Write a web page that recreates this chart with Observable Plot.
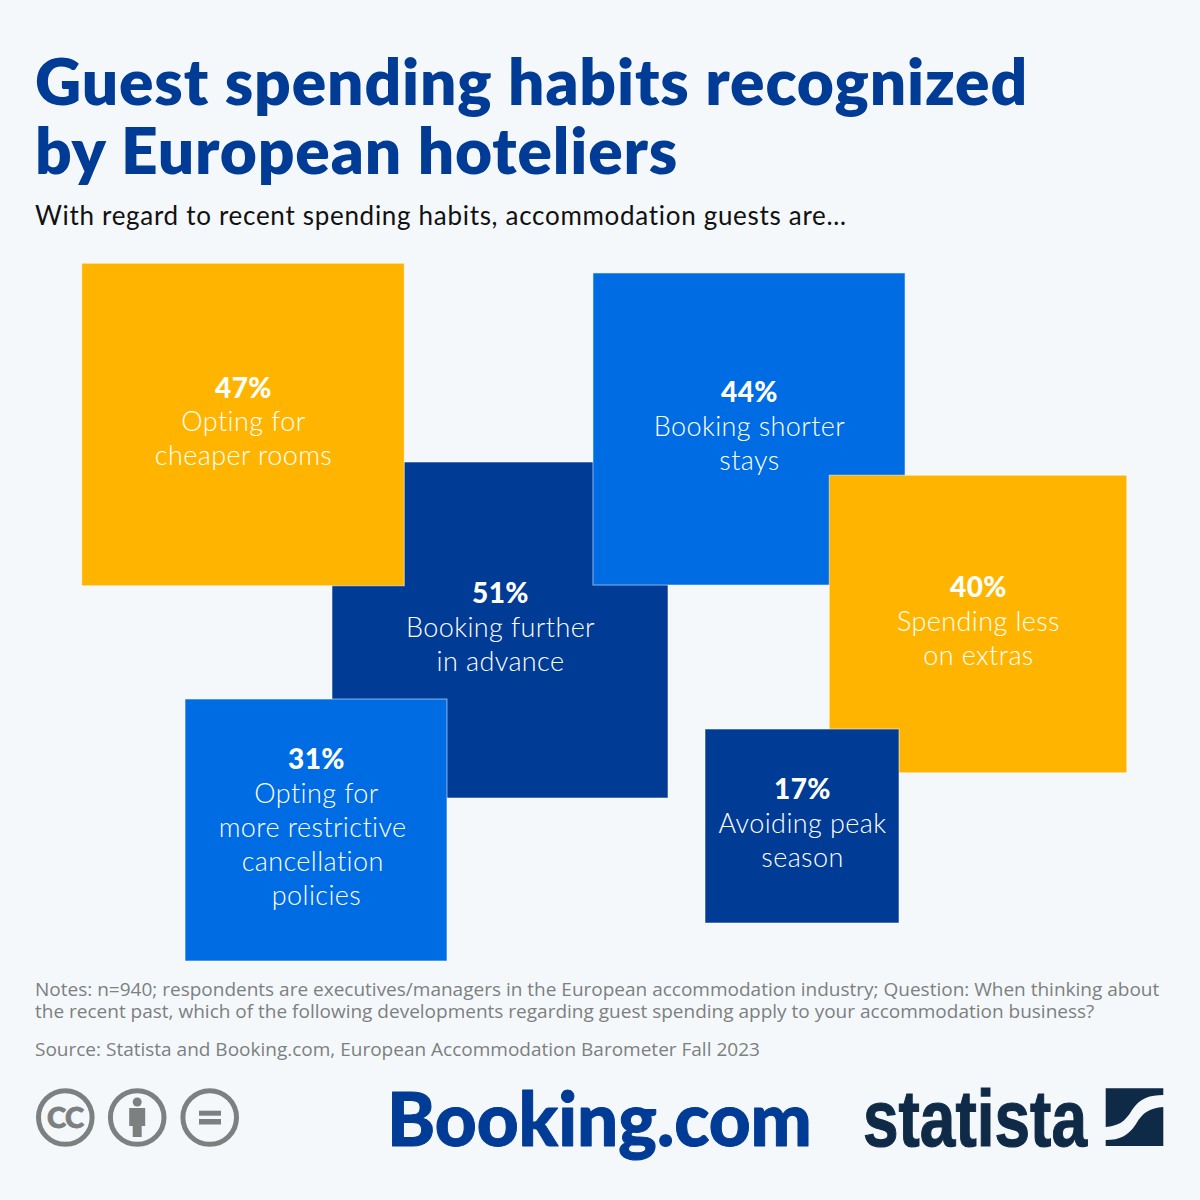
<!DOCTYPE html>
<html><head><meta charset="utf-8">
<script src="https://cdn.jsdelivr.net/npm/d3@7"></script>
<script src="https://cdn.jsdelivr.net/npm/@observablehq/plot@0.6"></script>
<style>
html,body{margin:0;padding:0;background:#f5f8fb}
#page{position:relative;width:1200px;height:1200px;background:#f5f8fb;overflow:hidden}
#page>div,#page>svg{position:absolute}
#title{left:35px;top:46px;font:800 64px/69px Lato,sans-serif;color:#003b95;white-space:nowrap;letter-spacing:.85px}
#subtitle{left:35px;top:198px;font:400 26px/34px Lato,sans-serif;color:#111;white-space:nowrap;letter-spacing:.7px}
#chart{left:0;top:250px}
#chart svg{display:block;background:transparent}
#notes{left:35px;top:978px;width:1140px;font:400 19px/22px "Open Sans",sans-serif;color:#7c8080;white-space:nowrap}
#source{left:35px;top:1038px;font:400 19px/22px "Open Sans",sans-serif;color:#7c8080;white-space:nowrap}
</style></head>
<body>
<div id="page">
  <div id="title">Guest spending habits recognized<br>by European hoteliers</div>
  <div id="subtitle">With regard to recent spending habits, accommodation guests are…</div>
  <div id="chart"></div>
  <div id="notes">Notes: n=940; respondents are executives/managers in the European accommodation industry; Question: When thinking about<br>the recent past, which of the following developments regarding guest spending apply to your accommodation business?</div>
  <div id="source">Source: Statista and Booking.com, European Accommodation Barometer Fall 2023</div>
  <svg id="logos" width="1200" height="135" viewBox="0 -15 1200 135" style="left:0;top:1060px" xmlns="http://www.w3.org/2000/svg">
    <g fill="none" stroke="#7c8080" stroke-width="5">
      <circle cx="65.300" cy="42.500" r="26.800"/><circle cx="137.200" cy="42.500" r="26.800"/><circle cx="209.700" cy="42.500" r="26.800"/>
    </g>
    <g fill="#7c8080">
      <text x="65.300" y="52.500" text-anchor="middle" font-family="Lato,sans-serif" font-weight="900" font-size="29" letter-spacing="-.5" stroke="#7c8080" stroke-width=".8">CC</text>
      <circle cx="137.200" cy="27" r="4.500"/>
      <path d="M129.200 33h16v18h-3.500v11h-9v-11h-3.500z"/>
      <rect x="199" y="35.700" width="22" height="5"/><rect x="199" y="44" width="22" height="5.500"/>
    </g>
    <text id="bk" x="0" y="0" font-family="Lato,sans-serif" font-weight="900" font-size="74" fill="#003b95" stroke="#003b95" stroke-width="1" stroke-linejoin="round">Booking.com</text>
    <text id="st" x="0" y="0" font-family="'Liberation Sans Narrow',sans-serif" font-weight="700" font-size="80" fill="#0f2a47" stroke="#0f2a47" stroke-width="1.200">statista</text>
    <path fill="#0f2a47" d="M1105.700 13.300H1163.300V20C1150 20 1140 23 1132 35C1125 47 1118 51 1105.700 52ZM1163.300 32C1150 33 1143 37 1136 49C1128 61 1120 65 1105.700 65V71H1163.300Z"/>
  </svg>
</div>
<script>
const labels = ["Booking further\nin advance","Opting for\ncheaper rooms","Booking shorter\nstays","Opting for\nmore restrictive\u00a0\ncancellation\u00a0\npolicies","Spending less\non extras","Avoiding peak\nseason"];
const values = [51,47,44,31,40,17];
const groups = ["dark","amber","blue","blue","amber","dark"];
const groupNames = ["dark","amber","blue"];
const groupColors = ["#003b95","#ffb500","#006ce4"];
const centerX = [500,243,749,316,978,802];
const centerY = [630,424.500,429,830,624,826];
const unitSide = 47.05;

const rows = values.map((v,i)=>{
  const half = unitSide*Math.sqrt(v)/2;
  const lines = labels[i].split("\n").length;
  return {v, label:labels[i], group:groups[i], lines,
    x1:centerX[i]-half, x2:centerX[i]+half, y1:centerY[i]-half, y2:centerY[i]+half,
    cx:centerX[i], cy:centerY[i]-3};
});
const font = "Lato,sans-serif";
const chart = Plot.plot({
  width:1200, height:725, margin:0,
  style:{background:"transparent", overflow:"visible", letterSpacing:"0.4px"},
  x:{domain:[0,1200], range:[0,1200], axis:null},
  y:{domain:[250,975], range:[0,725], axis:null},
  color:{domain:groupNames, range:groupColors},
  marks:[
    Plot.rect(rows,{x1:"x1",x2:"x2",y1:"y1",y2:"y2",fill:"group",stroke:"#fff",strokeOpacity:0.55,strokeWidth:1}),
    Plot.text(rows,{x:"cx",y:d=>d.cy-d.lines*17+1,text:d=>d.v+"%",fill:"#fff",fontFamily:font,fontWeight:900,fontSize:28}),
    Plot.text(rows,{x:"cx",y:d=>d.cy+15.500,text:"label",lineAnchor:"middle",lineHeight:34/27,fill:"#fff",fontFamily:font,fontWeight:300,fontSize:27})
  ]
});
document.getElementById("chart").appendChild(chart);
function fit(id,x,baseline,w){
  const t=document.getElementById(id);
  const s=w/t.getComputedTextLength();
  t.setAttribute("transform",`translate(${x},${baseline}) scale(${s},1)`);
}
fit("bk",387,70.500,425);
fit("st",863,71,224);
</script>
</body></html>
